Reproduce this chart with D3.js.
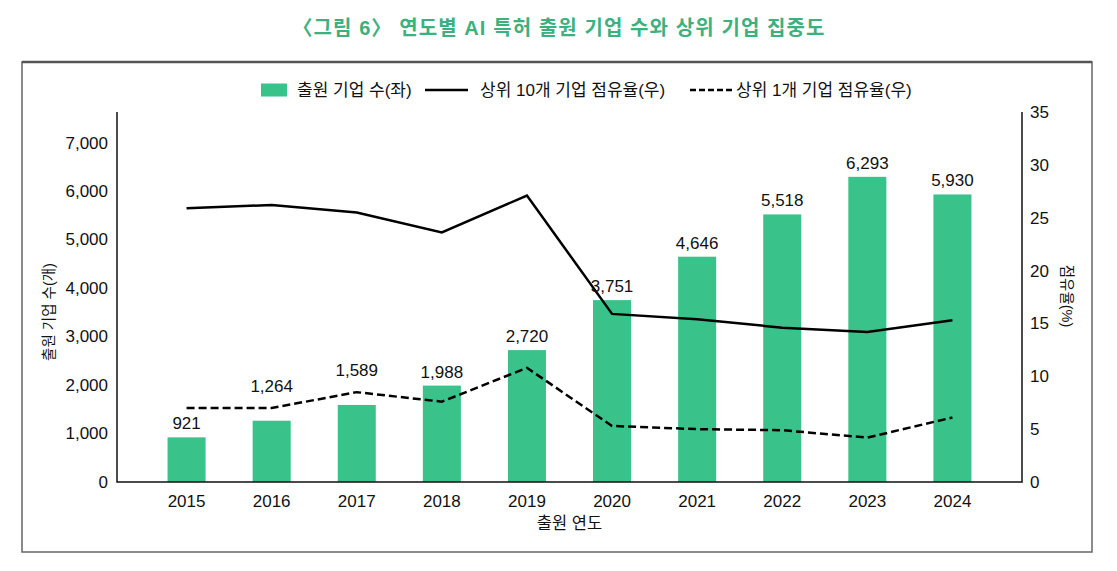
<!DOCTYPE html>
<html><head><meta charset="utf-8">
<script src="https://cdn.jsdelivr.net/npm/d3@7"></script>
<style>
html,body{margin:0;padding:0;background:#fff;}
svg{display:block;}
text{font-family:"Liberation Sans","Noto Sans CJK KR",sans-serif;fill:#111;}
</style></head>
<body>
<svg id="chart" width="1117" height="571"></svg>
<script>
const years = ["2015","2016","2017","2018","2019","2020","2021","2022","2023","2024"];
const companies = [921,1264,1589,1988,2720,3751,4646,5518,6293,5930];
const top10Share = [25.9,26.2,25.5,23.6,27.1,15.9,15.4,14.6,14.2,15.3];
const top1Share = [7.0,7.0,8.5,7.6,10.8,5.3,5.0,4.9,4.2,6.1];
const leftTicks = [0,1000,2000,3000,4000,5000,6000,7000];
const rightTicks = [0,5,10,15,20,25,30,35];

const svg = d3.select("#chart");
const GREEN = "#39c38b";
const L = 117, R = 1022, T = 112, B = 482;

// frame
svg.append("rect").attr("x",22).attr("y",62).attr("width",1070).attr("height",490)
  .attr("fill","none").attr("stroke","#666").attr("stroke-width",1.5);
svg.append("line").attr("x1",22).attr("x2",1092).attr("y1",62).attr("y2",62)
  .attr("stroke","#555").attr("stroke-width",2.5);

// title
svg.append("text").attr("x",559).attr("y",35).attr("text-anchor","middle")
  .style("font-size","20px").style("font-weight","bold").style("fill","#3cb07e")
  .style("letter-spacing","1.1px")
  .text("〈그림 6〉 연도별 AI 특허 출원 기업 수와 상위 기업 집중도");

const x = d3.scaleBand().domain(years).range([L,R]).paddingInner(0.553).paddingOuter(0.594);
const yL = d3.scaleLinear().domain([0,7630]).range([B,T]);
const yR = d3.scaleLinear().domain([0,35]).range([B,T]);
const cx = d => x(d) + x.bandwidth()/2;

// bars
svg.append("g").selectAll("rect").data(years).join("rect")
  .attr("x", d => x(d)).attr("width", x.bandwidth())
  .attr("y", (d,i) => yL(companies[i])).attr("height", (d,i) => B - yL(companies[i]))
  .attr("fill", GREEN);

// axes
const axL = d3.axisLeft(yL).tickValues(leftTicks).tickSize(0).tickPadding(9).tickFormat(d3.format(","));
const gL = svg.append("g").attr("transform",`translate(${L},0)`).call(axL);
const axR = d3.axisRight(yR).tickValues(rightTicks).tickSize(0).tickPadding(8).tickFormat(d3.format("d"));
const gR = svg.append("g").attr("transform",`translate(${R},0)`).call(axR);
const axB = d3.axisBottom(x).tickSize(0).tickPadding(11);
const gB = svg.append("g").attr("transform",`translate(0,${B})`).call(axB);
[gL,gR,gB].forEach(g => {
  g.select(".domain").remove();
  g.selectAll("text").style("font-size","17px").style("font-family","Liberation Sans, sans-serif").style("fill","#111");
});
gB.selectAll("text").attr("dy","0.85em");
svg.append("path").attr("d",`M${L},${T}V${B}H${R}V${T}`).attr("fill","none").attr("stroke","#111").attr("stroke-width",1.5);

// lines
const lineGen = d3.line().x((d,i)=>cx(years[i])).y(d=>yR(d));
svg.append("path").datum(top10Share).attr("d",lineGen).attr("fill","none")
  .attr("stroke","#000").attr("stroke-width",2.5).attr("stroke-linejoin","miter");
svg.append("path").datum(top1Share).attr("d",lineGen).attr("fill","none")
  .attr("stroke","#000").attr("stroke-width",2.5).attr("stroke-dasharray","8,4");

// data labels (avoid dashed line)
svg.append("g").selectAll("text").data(years).join("text")
  .attr("x", d => cx(d)).attr("text-anchor","middle")
  .style("font-size","17px")
  .attr("y", (d,i) => {
    let base = yL(companies[i]) - 8;
    const dy = yR(top1Share[i]);
    if (dy > base - 17 && dy < base + 5) base = dy - 16;
    return base;
  })
  .text((d,i) => d3.format(",")(companies[i]));

// axis titles
svg.append("text").attr("transform","translate(54,312) rotate(-90)").attr("text-anchor","middle")
  .style("font-size","14.5px").text("출원 기업 수(개)");
svg.append("text").attr("transform","translate(1062,296) rotate(90)").attr("text-anchor","middle")
  .style("font-size","14.5px").text("점유율(%)");
svg.append("text").attr("x",569.5).attr("y",529).attr("text-anchor","middle")
  .style("font-size","16.5px").text("출원 연도");

// legend
const lg = svg.append("g");
const ly = 90;
lg.append("rect").attr("x",261).attr("y",ly-6.5).attr("width",26).attr("height",13).attr("fill",GREEN);
const legendText = (t, xx) => lg.append("text").attr("x",xx).attr("y",ly+6).style("font-size","17px").text(t);
legendText("출원 기업 수(좌)", 297);
lg.append("line").attr("x1",425).attr("x2",468).attr("y1",ly).attr("y2",ly).attr("stroke","#000").attr("stroke-width",2.5);
legendText("상위 10개 기업 점유율(우)", 480);
lg.append("line").attr("x1",690).attr("x2",732).attr("y1",ly).attr("y2",ly).attr("stroke","#000").attr("stroke-width",2.5).attr("stroke-dasharray","6,3");
legendText("상위 1개 기업 점유율(우)", 736);
</script>
</body></html>
